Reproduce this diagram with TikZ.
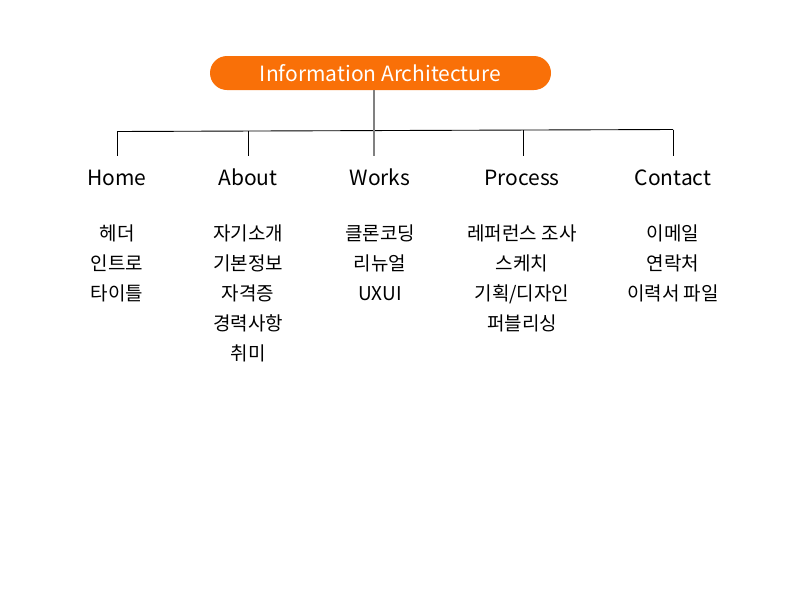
\documentclass[tikz,border=0pt]{standalone}
\usepackage{fontspec}
\setmainfont{Noto Sans CJK KR}
\definecolor{pillorange}{RGB}{249,112,8}
\definecolor{stemgray}{RGB}{128,128,128}
\begin{document}
\begin{tikzpicture}[x=1pt,y=-1pt,
  pill/.style={fill=pillorange,text=white,rounded corners=17pt,minimum width=341pt,minimum height=34pt,inner sep=0pt,text height=16.5pt,text depth=0pt,font=\fontsize{21}{24}\selectfont},
  cat/.style={anchor=base,inner sep=0pt,text height=15pt,text depth=4pt,outer ysep=14pt,font=\fontsize{21}{24}\selectfont},
  item/.style={anchor=base,inner sep=0pt,font=\fontsize{19}{22}\selectfont},
  conn/.style={draw=black,line width=0.9pt},
  stem/.style={draw=stemgray,line width=1.5pt}]
\useasboundingbox (0,0) rectangle (800,600);
\fill[white] (0,0) rectangle (800,600);
\node[pill] (root) at (380.5,73) {Information Architecture};
% categories
\node[cat] (home) at (117,185) {Home};
\node[cat] (about) at (248,185) {About};
\node[cat] (works) at (380,185) {Works};
\node[cat] (process) at (522,185) {Process};
\node[cat] (contact) at (673,185) {Contact};
% bar
\coordinate (barL) at (117,131.5);
\coordinate (barA) at (248,131);
\coordinate (barW) at (374,130.5);
\coordinate (barP) at (523,130);
\coordinate (barR) at (673,129.5);
\draw[conn] (barL) -- (barR);
\draw[conn] (barL) -- (barL |- home.north);
\draw[conn] (barA) -- (barA |- about.north);
\draw[conn] (barP) -- (barP |- process.north);
\draw[conn] (barR) -- (barR |- contact.north);
\draw[stem] (root.south -| barW) -- (barW |- works.north);
% items
\node[item] (h1) at (117,240) {헤더};
\node[item] (h2) at (117,270) {인트로};
\node[item] (h3) at (117,300) {타이틀};
\node[item] (a1) at (248,240) {자기소개};
\node[item] (a2) at (248,270) {기본정보};
\node[item] (a3) at (248,300) {자격증};
\node[item] (a4) at (248,330) {경력사항};
\node[item] (a5) at (248,360) {취미};
\node[item] (w1) at (380,240) {클론코딩};
\node[item] (w2) at (380,270) {리뉴얼};
\node[item] (w3) at (380,300) {UXUI};
\node[item] (p1) at (522,240) {레퍼런스 조사};
\node[item] (p2) at (522,270) {스케치};
\node[item] (p3) at (522,300) {기획/디자인};
\node[item] (p4) at (522,330) {퍼블리싱};
\node[item] (c1) at (673,240) {이메일};
\node[item] (c2) at (673,270) {연락처};
\node[item] (c3) at (673,300) {이력서 파일};
\end{tikzpicture}
\end{document}
